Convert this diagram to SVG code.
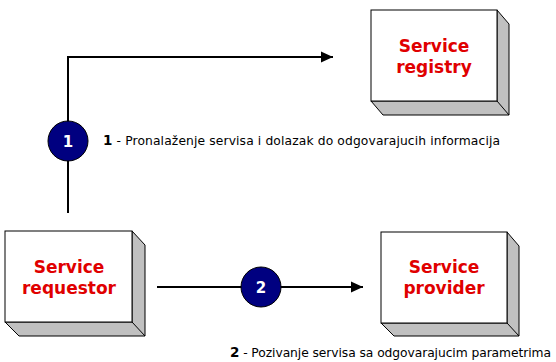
<svg xmlns="http://www.w3.org/2000/svg" width="556" height="362" viewBox="0 0 556 362">
<style>
.face{fill:#fff;stroke:#000;stroke-width:1}
.side{fill:#c0c0c0;stroke:#000;stroke-width:1}
.title{font-family:"DejaVu Sans",sans-serif;font-weight:bold;font-size:17px;fill:#e00000;text-anchor:middle}
.lbl{font-family:"DejaVu Sans",sans-serif;font-size:12.3px;fill:#000}
.num{font-family:"DejaVu Sans",sans-serif;font-weight:bold;font-size:15px;fill:#fff;text-anchor:middle}
.conn{fill:none;stroke:#000;stroke-width:2}
.badge{fill:#000080;stroke:#000;stroke-width:1}
</style>
<defs>
<marker id="arr" markerWidth="12" markerHeight="12" refX="12" refY="6" orient="auto" markerUnits="userSpaceOnUse" viewBox="0 0 12 12">
<path d="M0,0.5 L12,6 L0,11.5 z" fill="#000"/>
</marker>
</defs>
<rect width="556" height="362" fill="#fff"/>
<g id="connectors">
<path class="conn" d="M68,213 V57 H333" marker-end="url(#arr)"/>
<path class="conn" d="M157,287 H363" marker-end="url(#arr)"/>
</g>
<g id="registry">
<polygon class="side" points="497,10 509,24 509,115 383,115 371,101 497,101"/>
<line x1="497" y1="101" x2="509" y2="115" stroke="#000"/>
<rect class="face" x="371" y="10" width="126" height="91"/>
<text class="title" x="434" y="52">Service</text>
<text class="title" x="434" y="73">registry</text>
</g>
<g id="requestor">
<polygon class="side" points="132,231 145,245 145,336 19,336 5,322 132,322"/>
<line x1="132" y1="322" x2="145" y2="336" stroke="#000"/>
<rect class="face" x="5" y="231" width="127" height="91"/>
<text class="title" x="69" y="273">Service</text>
<text class="title" x="69" y="294">requestor</text>
</g>
<g id="provider">
<polygon class="side" points="507,232 519,246 519,336 394,336 381,323 507,323"/>
<line x1="507" y1="323" x2="519" y2="336" stroke="#000"/>
<rect class="face" x="381" y="232" width="126" height="91"/>
<text class="title" x="444" y="273">Service</text>
<text class="title" x="444" y="294">provider</text>
</g>
<g id="step1">
<circle class="badge" cx="68" cy="141" r="20"/>
<text class="num" x="68" y="147">1</text>
<text class="lbl" x="103" y="145" textLength="397" lengthAdjust="spacing"><tspan font-weight="bold" font-size="13.5">1</tspan> - Pronalaženje servisa i dolazak do odgovarajucih informacija</text>
</g>
<g id="step2">
<circle class="badge" cx="261" cy="287" r="20"/>
<text class="num" x="261" y="293">2</text>
<text class="lbl" x="230" y="357" textLength="321" lengthAdjust="spacing"><tspan font-weight="bold" font-size="13.5">2</tspan> - Pozivanje servisa sa odgovarajucim parametrima</text>
</g>
</svg>
